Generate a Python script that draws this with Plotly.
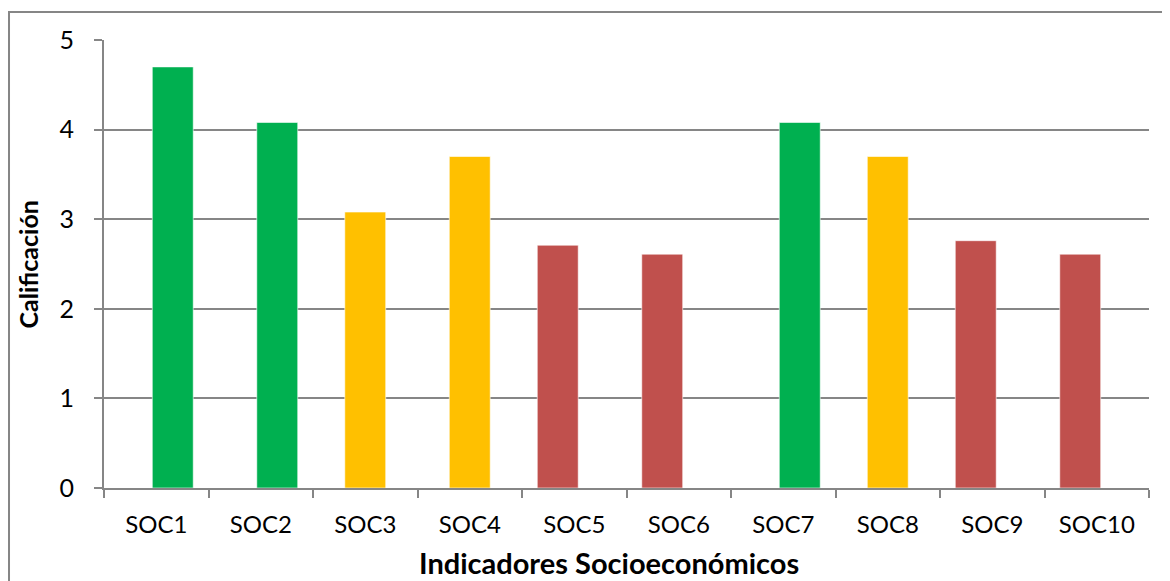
import plotly.graph_objects as go

categories = ["SOC1", "SOC2", "SOC3", "SOC4", "SOC5", "SOC6", "SOC7", "SOC8", "SOC9", "SOC10"]
scores = [4.70, 4.08, 3.08, 3.70, 2.71, 2.61, 4.08, 3.70, 2.76, 2.61]
levels = ["alto", "alto", "medio", "medio", "bajo", "bajo", "alto", "medio", "bajo", "bajo"]

# Excel clustered chart with three series: bajo (left), medio (centre), alto (right)
series_order = ["bajo", "medio", "alto"]
series_colors = {"bajo": "#C0504D", "medio": "#FFC000", "alto": "#00B050"}
series_offsets = {"bajo": -0.354, "medio": -0.196, "alto": -0.038}
bar_width = 0.392

axis_grey = "#868686"
font_family = "Lato, 'Open Sans', sans-serif"

fig = go.Figure()
for level in series_order:
    values = [s if lv == level else None for s, lv in zip(scores, levels)]
    fig.add_trace(
        go.Bar(
            x=categories,
            y=values,
            name=level,
            marker=dict(color=series_colors[level],
                        line=dict(color="rgba(255,255,255,0.6)", width=1)),
            width=bar_width,
            offset=series_offsets[level],
        )
    )

# the page body adds an 8px offset, so margins are reduced by that amount
fig.update_layout(
    width=1170,
    height=581,
    margin=dict(l=96, r=29, t=32, b=101),
    barmode="overlay",
    paper_bgcolor="white",
    plot_bgcolor="white",
    showlegend=False,
    font=dict(family=font_family, color="black"),
    shapes=[
        dict(
            type="rect", xref="paper", yref="paper",
            x0=-0.0909, x1=1.03, y0=-0.25, y1=1.0625,
            line=dict(color=axis_grey, width=2), layer="below",
        )
    ],
    annotations=[
        dict(
            text="<b>Indicadores Socioeconómicos</b>", xref="paper", yref="paper",
            x=0.4837, y=-0.1674, xanchor="center", yanchor="middle",
            showarrow=False, font=dict(size=29),
        ),
        dict(
            text="<b>Calificación</b>", xref="paper", yref="paper",
            x=-0.0732, y=0.4978, xanchor="center", yanchor="middle",
            showarrow=False, textangle=-90, font=dict(size=25),
        ),
    ],
)

fig.update_xaxes(
    type="category", categoryorder="array", categoryarray=categories,
    automargin=False,
    showline=True, linecolor=axis_grey, linewidth=2,
    ticks="outside", tickson="boundaries", ticklen=8, tickwidth=2, tickcolor=axis_grey,
    tickfont=dict(size=24), ticklabelstandoff=14,
    showgrid=False,
)

fig.update_yaxes(
    range=[0, 5], dtick=1, automargin=False,
    showline=True, linecolor=axis_grey, linewidth=2,
    ticks="outside", ticklen=8, tickwidth=2, tickcolor=axis_grey,
    tickfont=dict(size=25), ticklabelstandoff=15,
    showgrid=True, gridcolor=axis_grey, gridwidth=1.5,
    zeroline=False,
)

fig.write_html("out.html")
